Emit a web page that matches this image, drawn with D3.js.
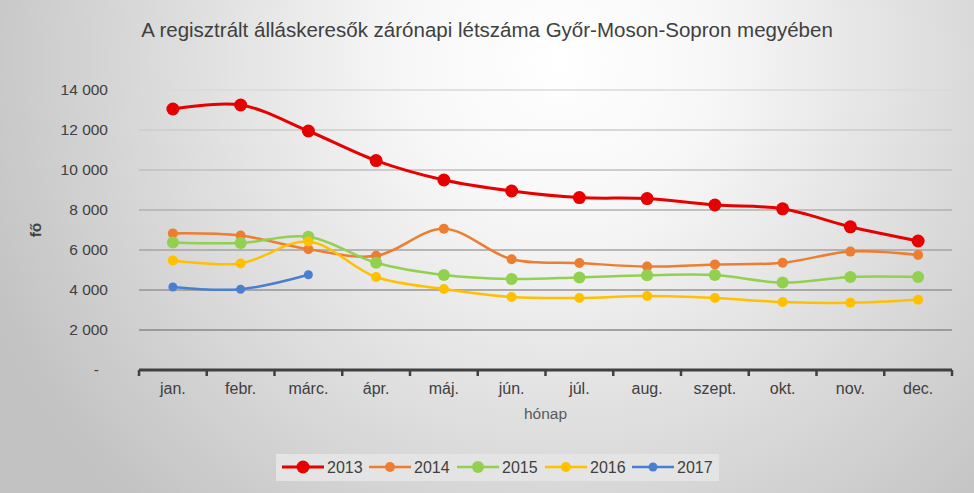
<!DOCTYPE html>
<html>
<head>
<meta charset="utf-8">
<script src="https://cdn.jsdelivr.net/npm/d3@7"></script>
<style>
  body { margin: 0; }
  svg { display: block; font-family: "Liberation Sans", Arial, sans-serif; }
</style>
</head>
<body>
<svg id="chart"></svg>
<script>
var WIDTH = 974;
var HEIGHT = 493;

// adatok
var months = ['jan.', 'febr.', 'márc.', 'ápr.', 'máj.', 'jún.', 'júl.', 'aug.', 'szept.', 'okt.', 'nov.', 'dec.'];
var years = ['2013', '2014', '2015', '2016', '2017'];
var v2013 = [13050, 13250, 11950, 10470, 9500, 8950, 8620, 8570, 8250, 8060, 7160, 6450];
var v2014 = [6830, 6720, 6040, 5710, 7060, 5540, 5350, 5170, 5280, 5360, 5920, 5750];
var v2015 = [6380, 6350, 6660, 5360, 4750, 4550, 4630, 4740, 4750, 4370, 4650, 4650];
var v2016 = [5480, 5330, 6420, 4650, 4050, 3650, 3600, 3700, 3600, 3400, 3360, 3510];
var v2017 = [4150, 4040, 4760];
var yTicks = [0, 2000, 4000, 6000, 8000, 10000, 12000, 14000];

var series = [
  {name: years[0], values: v2013, color: '#e60000', r: 6.5, w: 3},
  {name: years[1], values: v2014, color: '#ed7d31', r: 5, w: 2.5},
  {name: years[2], values: v2015, color: '#92d050', r: 6, w: 2.5},
  {name: years[3], values: v2016, color: '#ffc000', r: 5, w: 2.5},
  {name: years[4], values: v2017, color: '#4a7fcf', r: 4.5, w: 2.5}
];

var margin = {top: 90, left: 139, right: 22, bottom: 123};
var plotW = WIDTH - margin.left - margin.right;
var plotH = HEIGHT - margin.top - margin.bottom;

var svg = d3.select('#chart').attr('width', WIDTH).attr('height', HEIGHT);

// háttér
var defs = svg.append('defs');
var grad = defs.append('radialGradient').attr('id', 'bg')
  .attr('gradientUnits', 'userSpaceOnUse')
  .attr('cx', 560).attr('cy', 60).attr('r', 620);
grad.append('stop').attr('offset', '0%').attr('stop-color', '#ffffff');
grad.append('stop').attr('offset', '25%').attr('stop-color', '#f7f7f7');
grad.append('stop').attr('offset', '100%').attr('stop-color', '#c2c2c2');
svg.append('rect').attr('width', WIDTH).attr('height', HEIGHT).attr('fill', 'url(#bg)');

svg.append('text')
  .attr('x', 487).attr('y', 37)
  .attr('text-anchor', 'middle')
  .attr('font-size', 20.5)
  .attr('fill', '#404040')
  .text('A regisztrált álláskeresők zárónapi létszáma Győr-Moson-Sopron megyében');

var x = d3.scaleBand().domain(months).range([margin.left, margin.left + plotW]);
var y = d3.scaleLinear().domain([0, 14000]).range([margin.top + plotH, margin.top]);
var gridColor = d3.scaleLinear().domain([0, 14000]).range(['#7a7a7a', '#dadada']);

// rácsvonalak
svg.append('g').selectAll('line')
  .data(yTicks.filter(d => d > 0))
  .join('line')
  .attr('x1', margin.left).attr('x2', margin.left + plotW)
  .attr('y1', d => y(d)).attr('y2', d => y(d))
  .attr('stroke', d => gridColor(d))
  .attr('stroke-width', 1.5);

// y tengely
var yAxis = svg.append('g')
  .attr('transform', `translate(${margin.left - 31},0)`)
  .call(d3.axisLeft(y).tickValues(yTicks).tickSize(0)
    .tickFormat(d => d === 0 ? '-' : d3.format(',')(d).replace(',', ' ')));
yAxis.select('.domain').remove();
yAxis.selectAll('text')
  .attr('font-size', 15.5)
  .attr('fill', '#404040')
  .attr('font-family', '"Liberation Sans", Arial, sans-serif')
  .attr('x', d => d === 0 ? -9 : 0);

svg.append('text')
  .attr('transform', 'translate(41,230) rotate(-90)')
  .attr('text-anchor', 'middle')
  .attr('font-size', 15.5)
  .attr('font-weight', 'bold')
  .attr('fill', '#404040')
  .text('fő');

// x tengely
var xAxis = svg.append('g')
  .attr('transform', `translate(0,${margin.top + plotH})`)
  .call(d3.axisBottom(x).tickSize(0).tickPadding(13));
xAxis.select('.domain').remove();
xAxis.selectAll('text')
  .attr('font-size', 16)
  .attr('fill', '#404040')
  .attr('font-family', '"Liberation Sans", Arial, sans-serif');

svg.append('line')
  .attr('x1', margin.left).attr('x2', margin.left + plotW)
  .attr('y1', y(0)).attr('y2', y(0))
  .attr('stroke', '#404040').attr('stroke-width', 3);
var bounds = months.map(m => x(m)).concat([margin.left + plotW]);
svg.append('g').selectAll('line')
  .data(bounds)
  .join('line')
  .attr('x1', d => d).attr('x2', d => d)
  .attr('y1', y(0)).attr('y2', y(0) + 6)
  .attr('stroke', '#404040').attr('stroke-width', 2.5);

svg.append('text')
  .attr('x', margin.left + plotW / 2).attr('y', 419)
  .attr('text-anchor', 'middle')
  .attr('font-size', 15.5)
  .attr('fill', '#595959')
  .text('hónap');

// vonalak
var line = d3.line()
  .x((d, i) => x(months[i]) + x.bandwidth() / 2)
  .y(d => y(d))
  .curve(d3.curveCatmullRom.alpha(0.5));

var lines = svg.append('g');
series.forEach(s => {
  lines.append('path')
    .datum(s.values)
    .attr('d', line)
    .attr('fill', 'none')
    .attr('stroke', s.color)
    .attr('stroke-width', s.w)
    .attr('stroke-linecap', 'round');
  lines.append('g').selectAll('circle')
    .data(s.values)
    .join('circle')
    .attr('cx', (d, i) => x(months[i]) + x.bandwidth() / 2)
    .attr('cy', d => y(d))
    .attr('r', s.r)
    .attr('fill', s.color);
});

// jelmagyarázat
var legend = svg.append('g');
legend.append('rect')
  .attr('x', 276).attr('y', 454).attr('width', 443).attr('height', 27)
  .attr('fill', '#e4e4e4');
var legendX = [282, 369, 457, 545, 632];
series.forEach((s, i) => {
  var g = legend.append('g').attr('transform', `translate(${legendX[i]},467)`);
  g.append('line').attr('x1', 0).attr('x2', 42)
    .attr('stroke', s.color).attr('stroke-width', s.w);
  g.append('circle').attr('cx', 21).attr('r', s.r).attr('fill', s.color);
  g.append('text').attr('x', 45).attr('y', 6)
    .attr('font-size', 16)
    .attr('fill', '#404040')
    .text(s.name);
});
</script>
</body>
</html>
